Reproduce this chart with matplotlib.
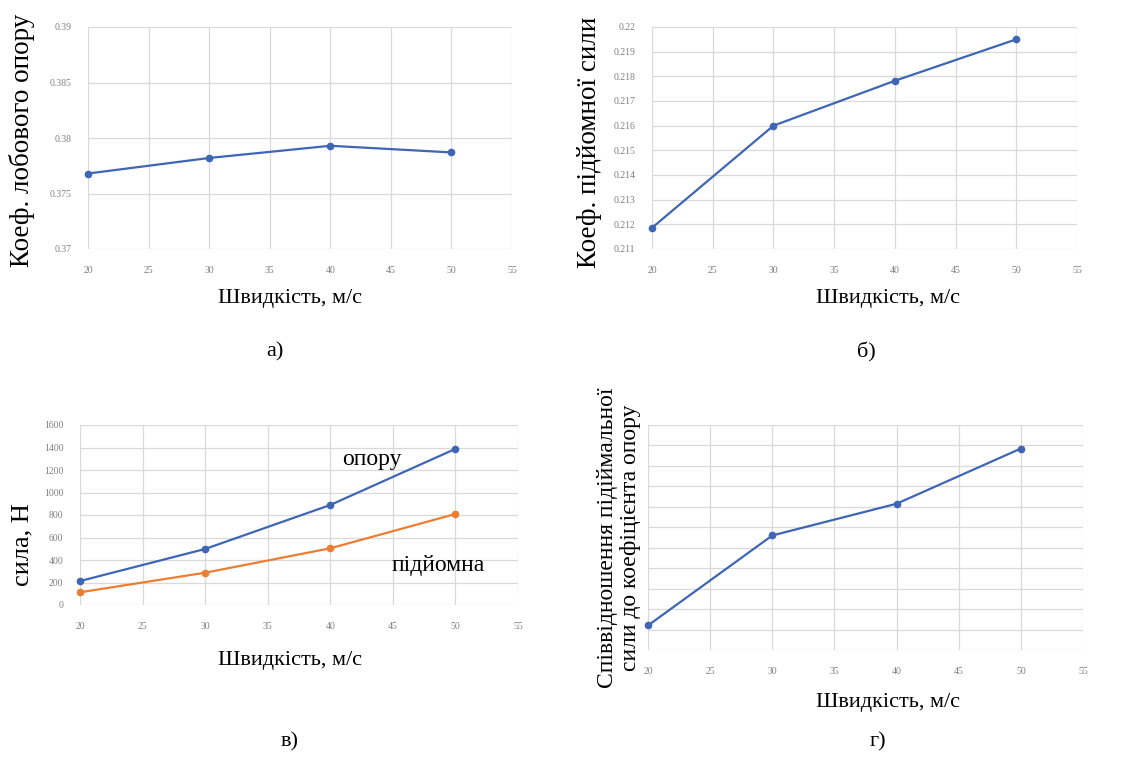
import matplotlib
matplotlib.use("Agg")
import matplotlib.pyplot as plt
import numpy as np

# ---- data ----
speed = [20, 30, 40, 50]
drag_coef = [0.3768, 0.3782, 0.3793, 0.3787]
lift_coef = [0.21186, 0.21600, 0.21782, 0.21950]
drag_force = [213, 498, 889, 1388]
lift_force = [113, 287, 504, 809]
ratio = [0.5624, 0.5712, 0.5743, 0.5797]

x_ticks = [20, 25, 30, 35, 40, 45, 50, 55]
a_yticks = [0.37, 0.375, 0.38, 0.385, 0.39]
a_ylabels = ["0.37", "0.375", "0.38", "0.385", "0.39"]
b_yticks = [0.211, 0.212, 0.213, 0.214, 0.215, 0.216, 0.217, 0.218, 0.219, 0.22]
b_ylabels = ["0.211", "0.212", "0.213", "0.214", "0.215", "0.216", "0.217", "0.218", "0.219", "0.22"]
c_yticks = [0, 200, 400, 600, 800, 1000, 1200, 1400, 1600]
d_yticks = [0.560, 0.562, 0.564, 0.566, 0.568, 0.570, 0.572, 0.574, 0.576, 0.578, 0.580, 0.582]

BLUE = "#3F65B5"
ORANGE = "#ED7D31"
GRID = "#D9D9D9"
TICKC = "#7F7F7F"
SERIF = "Liberation Serif"

W, H = 1139, 760
fig = plt.figure(figsize=(W / 100, H / 100), dpi=100)


def add_ax(x0, y0, x1, y1):
    return fig.add_axes([x0 / W, 1 - y1 / H, (x1 - x0) / W, (y1 - y0) / H])


def style(ax, yticks, ylabels, ylim, show_y=True):
    ax.set_xlim(20, 55)
    ax.set_ylim(*ylim)
    ax.set_xticks(x_ticks)
    ax.set_xticklabels([str(t) for t in x_ticks])
    ax.set_yticks(yticks)
    if show_y:
        ax.set_yticklabels(ylabels)
    else:
        ax.set_yticklabels([])
    for s in ax.spines.values():
        s.set_visible(False)
    ax.grid(True, color=GRID, linewidth=0.9)
    ax.set_axisbelow(True)
    ax.tick_params(length=0, labelsize=7, labelcolor=TICKC, pad=12)
    for lab in ax.get_xticklabels() + ax.get_yticklabels():
        lab.set_family(SERIF)


def line(ax, y, color):
    ax.plot(speed, y, color=color, lw=1.6, marker="o", ms=4.5, clip_on=False, zorder=3)


def txt(x, y, s, size=16, **kw):
    fig.text(x / W, 1 - y / H, s, fontsize=size, family=SERIF, ha="center", va="center", **kw)


# a)
ax1 = add_ax(88, 27, 512, 249)
style(ax1, a_yticks, a_ylabels, (0.37, 0.39))
line(ax1, drag_coef, BLUE)
txt(22, 140, "Коеф. лобового опору", size=19.5, rotation=90)
txt(290, 298, "Швидкість, м/с", size=16)
txt(275, 352, "а)", size=16)

# б)
ax2 = add_ax(652, 27, 1077, 249)
style(ax2, b_yticks, b_ylabels, (0.211, 0.22))
line(ax2, lift_coef, BLUE)
txt(590, 142, "Коеф. підйомної сили", size=19.5, rotation=90)
txt(888, 298, "Швидкість, м/с", size=16)
txt(866, 352, "б)", size=16)

# в)
ax3 = add_ax(80, 425, 518, 605)
style(ax3, c_yticks, [str(t) for t in c_yticks], (0, 1600))
line(ax3, drag_force, BLUE)
line(ax3, lift_force, ORANGE)
txt(372, 460, "опору", size=17)
txt(438, 566, "підйомна", size=17)
txt(22, 545, "сила, Н", size=19, rotation=90)
txt(290, 660, "Швидкість, м/с", size=16)
txt(290, 742, "в)", size=16)

# г)
ax4 = add_ax(648, 425, 1083, 650)
style(ax4, d_yticks, None, (0.560, 0.582), show_y=False)
line(ax4, ratio, BLUE)
txt(619, 538, "Співвідношення підіймальної\nсили до коефіцієнта опору", size=17,
    rotation=90, linespacing=1.1)
txt(888, 703, "Швидкість, м/с", size=16)
txt(878, 742, "г)", size=16)

fig.savefig("out.png", dpi=100, facecolor="white")
